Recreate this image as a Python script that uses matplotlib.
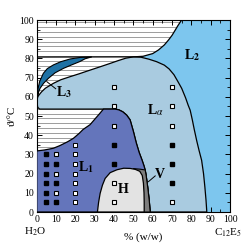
import numpy as np
import matplotlib.pyplot as plt
from matplotlib.patches import Polygon

plt.rcParams['font.family'] = ['Liberation Serif', 'DejaVu Serif']
plt.rcParams['mathtext.fontset'] = 'stix'

# phase boundaries, (% w/w, temperature in C)
la_top = [(1.2, 61), (2.5, 62.6), (4.5, 64.5), (8.6, 67), (12.5, 68.9), (17.3, 70.5),
          (22, 72), (27.6, 73.9), (33, 75.7), (38, 77.4), (42, 78.8), (46, 80.1),
          (50, 80.8), (54, 80.6), (58, 79.6), (62, 78.3), (66, 76.5), (68.5, 74.5),
          (71, 71.5), (73, 68), (75, 64.4), (77, 59.5), (78.4, 55.5), (79.4, 53),
          (80.5, 48), (81.5, 43), (82.8, 37), (84, 32), (85.3, 27), (86.3, 20),
          (87, 13), (87.6, 6), (88, 0)]
l1_la = [(58.7, 0), (58.2, 6), (57.4, 13), (56.6, 19), (56.1, 21.9), (55.5, 24),
         (54.5, 27), (53, 31), (51.5, 36), (50, 42), (48.3, 48), (46.5, 50.5),
         (44.5, 52.2), (42.5, 53.2), (40.6, 53.6)]
la_left = [(1.5, 53.6), (0.5, 54.5), (0.2, 56.5), (0.3, 59), (0.6, 60.2)]
l1_hatch = [(0, 31.8), (4, 32.3), (8.6, 33.2), (12, 34.6), (16, 36.6), (19, 38.4),
            (22, 41), (24, 43), (27.6, 45.5), (30, 48.3), (32.5, 51.2), (34.5, 53.6)]
l3_outer = [(0.4, 60), (0.6, 64), (1.5, 68), (3.4, 72.2), (5.5, 74.7), (8.6, 76.6),
            (12.5, 78.3), (17.3, 79.7), (22.5, 80.5), (28.5, 80.8)]
l3_inner = [(25, 79.8), (22.4, 78.4), (18, 76.6), (13.8, 74.8), (9.5, 72.5),
            (6, 69.6), (3.5, 67), (1.7, 64.4), (0.8, 62)]
upper_hatch = [(0, 80.7), (50, 80.8), (55, 81.1), (60, 82.5), (63, 84.4), (66, 87),
               (68.2, 89.6), (70, 92), (71.7, 94.8), (73, 97), (74.3, 99), (75, 100)]
h_dome = [(31.4, 0), (32, 5), (32.8, 9.7), (34, 14), (35.4, 17.5), (38, 20.5),
          (41.5, 22), (45, 22.8), (48.3, 22.7), (51, 22.2), (53.3, 21.2), (54.6, 19),
          (55.2, 15), (55.5, 10), (55.6, 5), (55.6, 0)]
v_band = [(50, 22.6), (53.5, 22.3), (56.1, 21.9), (56.6, 19), (57.4, 13), (58.2, 6),
          (58.7, 0), (50, 0)]

# sample points
filled_x = [5, 5, 5, 5, 5, 5, 10, 10, 10, 40, 40, 70, 70, 70]
filled_y = [5, 10, 15, 20, 25, 30, 5, 15, 25, 25, 35, 15, 25, 35]
open_x = [10, 10, 10, 40, 40, 40, 40, 40, 70, 70, 70, 70]
open_y = [10, 20, 30, 5, 15, 45, 55, 65, 5, 45, 55, 65]
small_x = [20, 20, 20, 20, 20, 20, 20]
small_y = [5, 10, 15, 20, 25, 30, 35]

fig = plt.figure(figsize=(2.5, 2.5), dpi=100)
ax = fig.add_axes([0.147, 0.152, 0.773, 0.768])

# hatching of the two-phase regions
for yh in np.arange(1.25, 100, 2.5):
    ax.axhline(yh, color='#666666', lw=0.45, zorder=0)

l2 = upper_hatch[1:] + [(100, 100), (100, 0)] + la_top[::-1][:-12]
ax.add_patch(Polygon(l2, closed=True, fc='#7dc6ee', ec='none', zorder=1))

la = la_left + la_top + l1_la
ax.add_patch(Polygon(la, closed=True, fc='#a9cbe0', ec='black', lw=0.9, zorder=2))

l1 = [(0, 0)] + l1_hatch + l1_la[::-1]
ax.add_patch(Polygon(l1, closed=True, fc='#6475bb', ec='black', lw=0.9, zorder=3))

ax.add_patch(Polygon(v_band, closed=True, fc='#7d7d7d', ec='black', lw=0.8, zorder=4))
ax.add_patch(Polygon(h_dome, closed=True, fc='#e3e3e3', ec='black', lw=0.9, zorder=5))
ax.add_patch(Polygon(l3_outer + l3_inner, closed=True, fc='#1f72a5', ec='black',
                     lw=0.8, zorder=4))

ux, uy = zip(*upper_hatch)
ax.plot(ux, uy, color='black', lw=0.9, zorder=6)

ax.plot(filled_x, filled_y, 's', ms=3.2, mfc='black', mec='black', zorder=7)
ax.plot(open_x, open_y, 's', ms=3.4, mfc='white', mec='black', mew=0.8, zorder=7)
ax.plot(small_x, small_y, 's', ms=2.6, mfc='white', mec='black', mew=0.7, zorder=7)

# phase labels
lab = dict(fontsize=10, fontweight='bold', zorder=8, va='center')
ax.text(80.3, 81.8, r'L$_\mathbf{2}$', ha='center', **lab)
ax.text(61.3, 53, r'L$_\alpha$', ha='center', **lab)
ax.text(10, 62.5, r'L$_\mathbf{3}$', ha='left', **lab)
ax.text(21.5, 23.6, r'L$_\mathbf{1}$', ha='left', **lab)
ax.text(44.5, 11.5, 'H', ha='center', **lab)
ax.text(63.5, 19.5, 'V', ha='center', **lab)
ax.plot([5.2, 9.8], [67.9, 64.2], color='black', lw=0.7, zorder=8)
ax.plot([57.8, 61.3], [15.8, 18.8], color='black', lw=0.7, zorder=8)

ax.set_xlim(0, 100)
ax.set_ylim(0, 100)
ax.set_xticks(np.arange(0, 101, 10))
ax.set_yticks(np.arange(0, 101, 10))
ax.set_xticks(np.arange(0, 101, 5), minor=True)
ax.set_yticks(np.arange(0, 101, 5), minor=True)
ax.tick_params(which='both', direction='in', top=True, right=True, labelsize=7, pad=2)
ax.tick_params(which='major', length=3.5, width=0.7)
ax.tick_params(which='minor', length=2, width=0.6)
for s in ax.spines.values():
    s.set_linewidth(0.8)

ax.set_ylabel('ϑ/°C', fontsize=8, labelpad=2)
ax.text(55, -13, '% (w/w)', ha='center', va='center', fontsize=8)
ax.text(-1, -10.5, r'H$_2$O', ha='center', va='center', fontsize=8)
ax.text(99, -11, r'C$_{12}$E$_5$', ha='center', va='center', fontsize=8)

fig.savefig('out.png', dpi=100)
